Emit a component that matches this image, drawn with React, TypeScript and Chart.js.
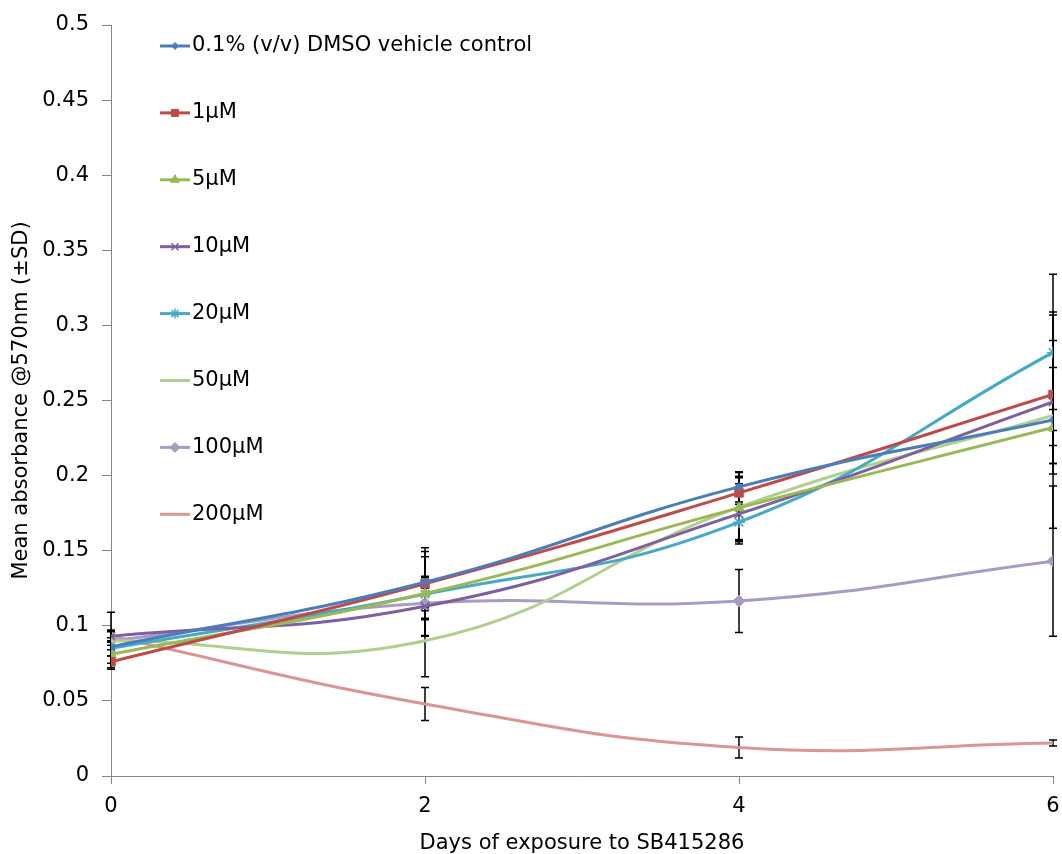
import React, { useEffect, useRef } from "react";
import { Chart, registerables } from "chart.js";
import { drawPoint } from "chart.js/helpers";

Chart.register(...registerables);

const days = [0, 2, 4, 6];
const seriesNames = [
  "0.1% (v/v) DMSO vehicle control",
  "1μM",
  "5μM",
  "10μM",
  "20μM",
  "50μM",
  "100μM",
  "200μM",
];
const dmso = [0.086, 0.129, 0.1925, 0.237];
const c1 = [0.076, 0.128, 0.1885, 0.254];
const c5 = [0.081, 0.1215, 0.1785, 0.232];
const c10 = [0.093, 0.113, 0.1745, 0.249];
const c20 = [0.085, 0.121, 0.169, 0.282];
const c50 = [0.09, 0.09, 0.179, 0.24];
const c100 = [0.09, 0.115, 0.1165, 0.143];
const c200 = [0.093, 0.048, 0.019, 0.022];

const sdDmso = [0.006, 0.017, 0.01, 0.072];
const sd1 = [0.004, 0.024, 0.01, 0.053];
const sd5 = [0.006, 0.028, 0.021, 0.012];
const sd10 = [0.004, 0.02, 0.02, 0.041];
const sd20 = [0.005, 0.011, 0.012, 0.052];
const sd50 = [0.006, 0.024, 0.023, 0.032];
const sd100 = [0.019, 0.01, 0.021, 0.05];
const sd200 = [0.004, 0.011, 0.007, 0.002];

const values = [dmso, c1, c5, c10, c20, c50, c100, c200];
const sds = [sdDmso, sd1, sd5, sd10, sd20, sd50, sd100, sd200];
const colors = ["#4A7EBB", "#BE4B48", "#98B954", "#7D60A0", "#46AAC5", "#B3CF8E", "#A99BC4", "#D99694"];
const pointStyles = ["rectRot", "rect", "triangle", "crossRot", "star", "circle", "rectRot", "circle"];
const pointRadii = [4, 6, 6, 6, 6, 0, 6, 0];

const yTickStep = 0.05;
const xTickStep = 2;

const FONT = "'DejaVu Sans', Verdana, sans-serif";
const FS = 21;

const errorBarPlugin = {
  id: "errorBars",
  beforeDatasetsDraw(chart: any) {
    const ctx = chart.ctx;
    const xs = chart.scales.x;
    const ys = chart.scales.y;
    ctx.save();
    ctx.strokeStyle = "#000";
    ctx.lineWidth = 1.5;
    chart.data.datasets.forEach((ds: any, di: number) => {
      const sd = sds[di];
      ds.data.forEach((p: any, i: number) => {
        const x = xs.getPixelForValue(p.x);
        const yt = ys.getPixelForValue(p.y + sd[i]);
        const yb = ys.getPixelForValue(p.y - sd[i]);
        ctx.beginPath();
        ctx.moveTo(x, yt);
        ctx.lineTo(x, yb);
        ctx.moveTo(x - 4, yt);
        ctx.lineTo(x + 4, yt);
        ctx.moveTo(x - 4, yb);
        ctx.lineTo(x + 4, yb);
        ctx.stroke();
      });
    });
    ctx.restore();
  },
};

const legendPlugin = {
  id: "insideLegend",
  afterDraw(chart: any) {
    const ctx = chart.ctx;
    const area = chart.chartArea;
    ctx.save();
    chart.data.datasets.forEach((ds: any, i: number) => {
      const y = area.top + 21 + i * 66.9;
      const x0 = area.left + 49;
      const x1 = x0 + 30;
      ctx.strokeStyle = ds.borderColor;
      ctx.lineWidth = 3;
      ctx.beginPath();
      ctx.moveTo(x0, y);
      ctx.lineTo(x1, y);
      ctx.stroke();
      if (ds.pointRadius > 0) {
        ctx.fillStyle = ds.pointBackgroundColor;
        ctx.strokeStyle = ds.pointBorderColor;
        ctx.lineWidth = ds.pointBorderWidth;
        drawPoint(ctx, { pointStyle: ds.pointStyle, radius: Math.max(3.5, ds.pointRadius - 1), rotation: 0, borderWidth: ds.pointBorderWidth }, (x0 + x1) / 2, y);
      }
      ctx.fillStyle = "#000";
      ctx.font = FS + "px " + FONT;
      ctx.textBaseline = "middle";
      ctx.textAlign = "left";
      ctx.fillText(seriesNames[i], x1 + 2, y);
    });
    ctx.restore();
  },
};

export default function App() {
  const ref = useRef<HTMLCanvasElement>(null);
  useEffect(() => {
    if (!ref.current) return;
    const datasets = values.map((vals, i) => ({
      label: seriesNames[i],
      data: days.map((d, j) => ({ x: d, y: vals[j] })),
      borderColor: colors[i],
      backgroundColor: colors[i],
      pointBackgroundColor: colors[i],
      pointBorderColor: colors[i],
      pointBorderWidth: pointStyles[i] === "crossRot" || pointStyles[i] === "star" ? 1.5 : 1,
      borderWidth: 3,
      pointStyle: pointStyles[i],
      pointRadius: pointRadii[i],
      tension: 0.45,
      fill: false,
    }));
    const chart = new Chart(ref.current, {
      type: "line",
      data: { datasets },
      options: {
        animation: false,
        responsive: true,
        maintainAspectRatio: false,
        layout: { padding: { top: 25, right: 9, left: 0, bottom: 0 } },
        plugins: {
          legend: { display: false },
          tooltip: { enabled: false },
        },
        scales: {
          x: {
            type: "linear",
            min: 0,
            max: 6,
            ticks: { stepSize: xTickStep, color: "#000", padding: 10, font: { family: FONT, size: FS } },
            grid: { drawOnChartArea: false, drawTicks: true, tickLength: 8, color: "#868686" },
            border: { display: true, color: "#868686", width: 1 },
            title: {
              display: true,
              text: "Days of exposure to SB415286",
              color: "#000",
              font: { family: FONT, size: FS },
              padding: { top: 0, bottom: -2 },
            },
            afterFit(scale: any) {
              scale.height = 78;
              scale.paddingLeft = 0;
              scale.paddingRight = 0;
            },
          },
          y: {
            type: "linear",
            min: 0,
            max: 0.5,
            ticks: {
              stepSize: yTickStep,
              color: "#000",
              padding: 13,
              font: { family: FONT, size: FS },
              callback: (v: any) => String(Number(Number(v).toFixed(2))),
            },
            grid: { drawOnChartArea: false, drawTicks: true, tickLength: 9, color: "#868686" },
            border: { display: true, color: "#868686", width: 1 },
            title: {
              display: true,
              text: "Mean absorbance @570nm (±SD)",
              color: "#000",
              font: { family: FONT, size: FS },
              padding: { top: 9, bottom: 0 },
            },
            afterFit(scale: any) {
              scale.width = 111;
              scale.paddingTop = 0;
              scale.paddingBottom = 0;
            },
          },
        },
      },
      plugins: [errorBarPlugin, legendPlugin],
    });
    return () => chart.destroy();
  }, []);
  return (
    <div style={{ position: "fixed", left: 0, top: 0, width: 1062, height: 854, background: "#fff" }}>
      <canvas ref={ref} />
    </div>
  );
}
